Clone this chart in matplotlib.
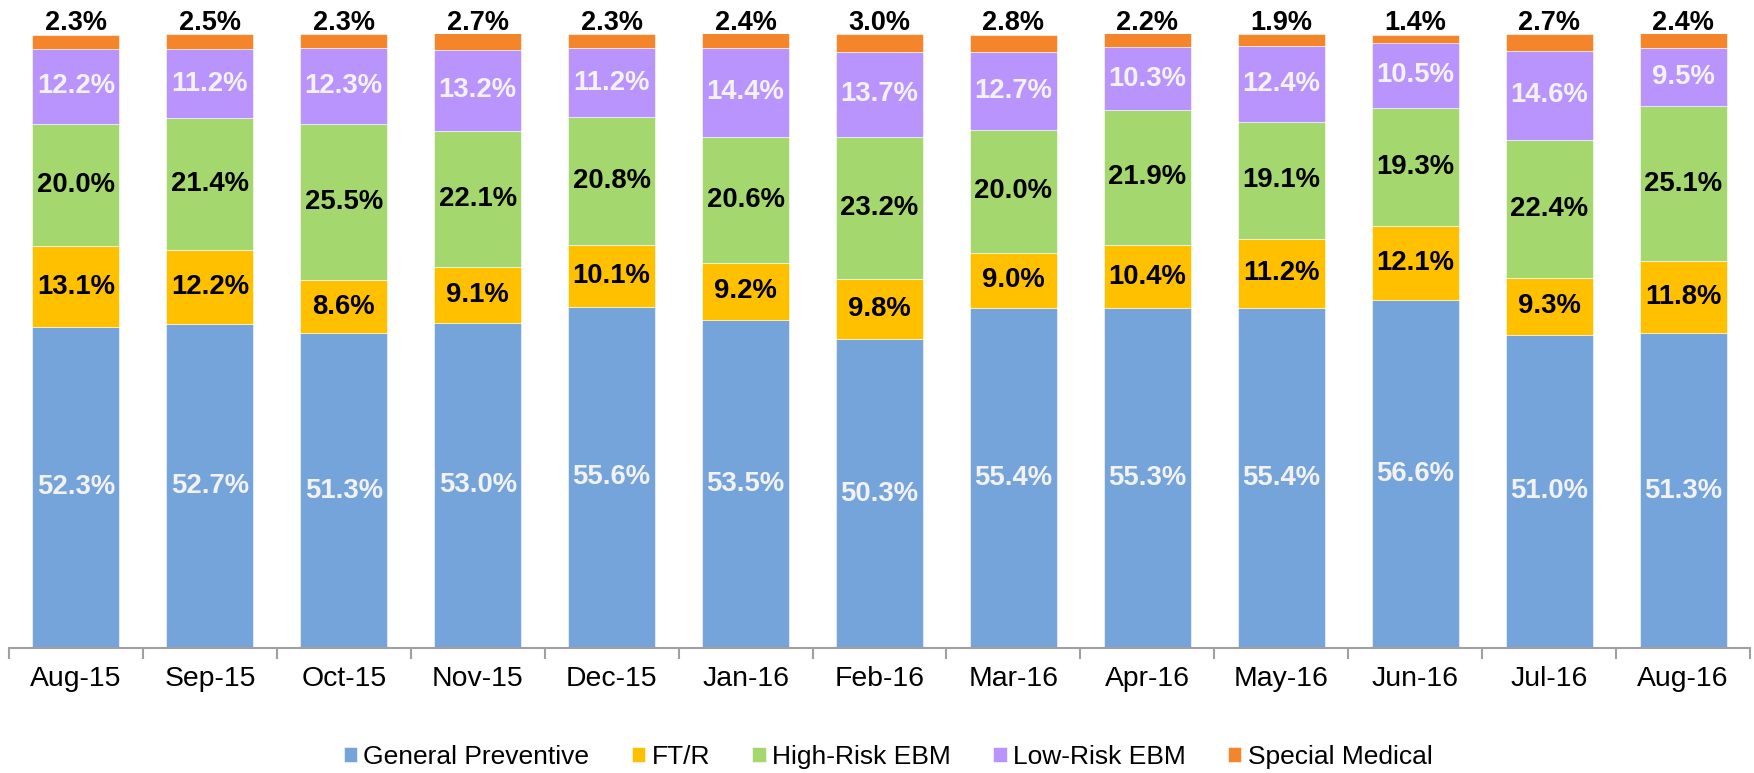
import numpy as np
import matplotlib.pyplot as plt

plt.rcParams['font.family'] = ['Liberation Sans', 'DejaVu Sans']

# data
months = ['Aug-15', 'Sep-15', 'Oct-15', 'Nov-15', 'Dec-15', 'Jan-16', 'Feb-16',
          'Mar-16', 'Apr-16', 'May-16', 'Jun-16', 'Jul-16', 'Aug-16']
general_preventive = [52.3, 52.7, 51.3, 53.0, 55.6, 53.5, 50.3, 55.4, 55.3, 55.4, 56.6, 51.0, 51.3]
ftr = [13.1, 12.2, 8.6, 9.1, 10.1, 9.2, 9.8, 9.0, 10.4, 11.2, 12.1, 9.3, 11.8]
high_risk = [20.0, 21.4, 25.5, 22.1, 20.8, 20.6, 23.2, 20.0, 21.9, 19.1, 19.3, 22.4, 25.1]
low_risk = [12.2, 11.2, 12.3, 13.2, 11.2, 14.4, 13.7, 12.7, 10.3, 12.4, 10.5, 14.6, 9.5]
special_medical = [2.3, 2.5, 2.3, 2.7, 2.3, 2.4, 3.0, 2.8, 2.2, 1.9, 1.4, 2.7, 2.4]

series = [
    ('General Preventive', general_preventive, '#75A4DB', '#F2F2F2'),
    ('FT/R', ftr, '#FFC000', 'black'),
    ('High-Risk EBM', high_risk, '#A4D76D', 'black'),
    ('Low-Risk EBM', low_risk, '#B994FC', '#F2F2F2'),
    ('Special Medical', special_medical, '#F5852A', None),
]

W, H = 1754, 773
fig = plt.figure(figsize=(W / 100, H / 100), dpi=100)
ax = fig.add_axes([9 / W, (H - 648) / H, (1750 - 9) / W, (648 - 34) / H])

x = np.arange(len(months))
bottom = np.zeros(len(months))
for name, vals, color, txtcol in series:
    vals = np.array(vals)
    ax.bar(x, vals, 0.65, bottom=bottom, color=color, label=name,
           edgecolor='white', linewidth=0.4)
    for xi, b, v in zip(x, bottom, vals):
        if txtcol is None:
            # special medical labels sit above the bar
            ax.text(xi, 101.8, '{:.1f}%'.format(v), ha='center', va='center',
                    fontsize=19.5, fontweight='bold', color='black', clip_on=False)
        else:
            ax.text(xi, b + v / 2, '{:.1f}%'.format(v), ha='center', va='center',
                    fontsize=19.8, fontweight='bold', color=txtcol)
    bottom += vals

ax.set_xlim(-0.5, len(months) - 0.5)
ax.set_ylim(0, 100)
ax.set_yticks([])
for s in ['top', 'right', 'left']:
    ax.spines[s].set_visible(False)
ax.spines['bottom'].set_color('#A0A0A0')
ax.spines['bottom'].set_linewidth(1.5)

ax.set_xticks(x)
ax.set_xticklabels(months, fontsize=20.4)
ax.tick_params(axis='x', which='major', length=0, pad=13)
ax.set_xticks(np.arange(-0.5, len(months)), minor=True)
ax.tick_params(axis='x', which='minor', length=8, width=1.5, color='#A0A0A0')

ax.legend(loc='center', bbox_to_anchor=(888 / W, (H - 757) / H), bbox_transform=fig.transFigure,
          ncol=5, frameon=False, fontsize=19, handlelength=0.52, handleheight=0.52,
          handletextpad=0.23, columnspacing=1.6)

plt.savefig('out.png', dpi=100)
